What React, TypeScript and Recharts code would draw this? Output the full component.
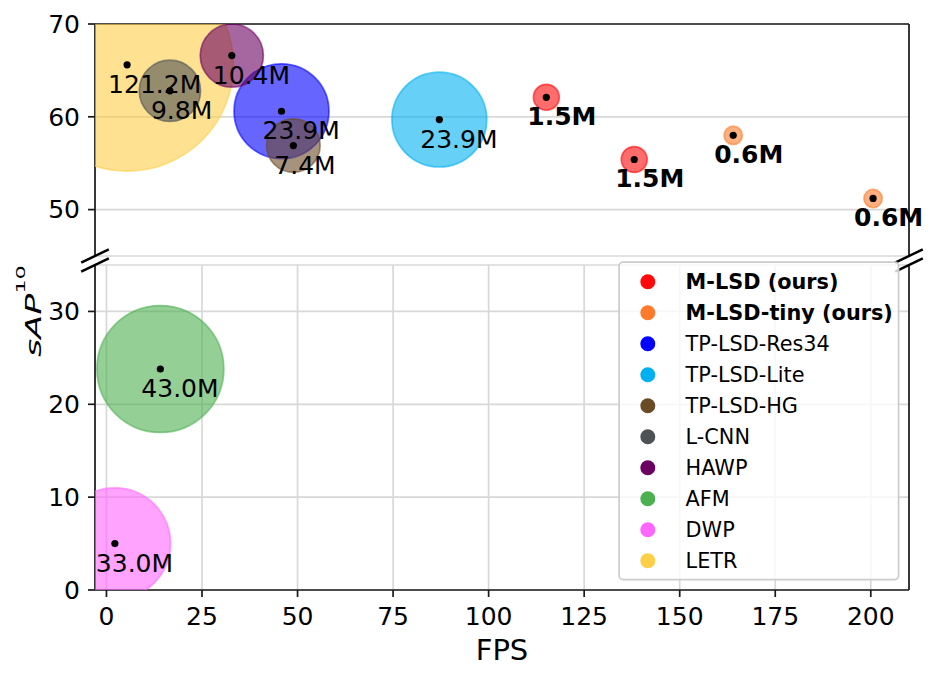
import React from 'react';
import {
  ScatterChart,
  Scatter,
  XAxis,
  YAxis,
  ZAxis,
  CartesianGrid,
  ReferenceLine,
  Label,
} from 'recharts';

// ---------------- data ----------------
const MODELS = [
  'M-LSD (ours)',
  'M-LSD-tiny (ours)',
  'TP-LSD-Res34',
  'TP-LSD-Lite',
  'TP-LSD-HG',
  'L-CNN',
  'HAWP',
  'AFM',
  'DWP',
  'LETR',
];
const OURS = ['M-LSD (ours)', 'M-LSD-tiny (ours)'];

// one entry per plotted point (drawing order: large bubbles underneath)
const POINT_MODEL = [
  'LETR',
  'AFM',
  'DWP',
  'TP-LSD-Lite',
  'TP-LSD-Res34',
  'HAWP',
  'L-CNN',
  'TP-LSD-HG',
  'M-LSD (ours)',
  'M-LSD (ours)',
  'M-LSD-tiny (ours)',
  'M-LSD-tiny (ours)',
];
const POINT_FPS = [5.4, 14.1, 2.2, 87.1, 45.8, 32.8, 16.6, 48.9, 115.1, 138.1, 164.0, 200.6];
const POINT_SAP10 = [65.6, 23.8, 5.0, 59.7, 60.6, 66.6, 62.8, 56.9, 62.1, 55.4, 58.0, 51.2];
const POINT_PARAMS = [121.2, 43.0, 33.0, 23.9, 23.9, 10.4, 9.8, 7.4, 1.5, 1.5, 0.6, 0.6];

const X_DOMAIN: [number, number] = [-3, 210];
const X_TICKS = [0, 25, 50, 75, 100, 125, 150, 175, 200];
const TOP_Y_DOMAIN: [number, number] = [45, 70];
const TOP_Y_TICKS = [50, 60, 70];
const BOTTOM_Y_DOMAIN: [number, number] = [0, 35];
const BOTTOM_Y_TICKS = [0, 10, 20, 30];

// ---------------- styles ----------------
const COLORS: Record<string, string> = {
  'M-LSD (ours)': '#ff0a0a',
  'M-LSD-tiny (ours)': '#ff7b2c',
  'TP-LSD-Res34': '#0000ff',
  'TP-LSD-Lite': '#00b0f0',
  'TP-LSD-HG': '#6b4a26',
  'L-CNN': '#4f5255',
  HAWP: '#6a005f',
  AFM: '#4caf50',
  DWP: '#ff66ff',
  LETR: '#fdcf47',
};

const W = 938;
const H = 680;
const PLOT_L = 95;
const PLOT_R = 909;
const TOP_T = 24;
const TOP_B = 256;
const BOT_T = 265;
const BOT_B = 590;
const FONT = '"DejaVu Sans", "Liberation Sans", sans-serif';
const INK = '#1a1a1a';
const GRID = '#d8d8d8';
const LW = 1.7;

// bubble area (px^2) per million parameters
const AREA_PER_M = 93 * Math.PI;
const AREA_OFFSET_M = 0.3;
const MAX_PARAMS = Math.max(...POINT_PARAMS);
const Z_DOMAIN: [number, number] = [0, MAX_PARAMS];
const Z_RANGE: [number, number] = [
  AREA_OFFSET_M * AREA_PER_M,
  (MAX_PARAMS + AREA_OFFSET_M) * AREA_PER_M,
];

type Pt = { model: string; fps: number; sap10: number; params: number; tag: string };

const POINTS: Pt[] = POINT_MODEL.map((m, i) => ({
  model: m,
  fps: POINT_FPS[i],
  sap10: POINT_SAP10[i],
  params: POINT_PARAMS[i],
  tag: `${POINT_PARAMS[i].toFixed(1)}M`,
}));
const TOP_POINTS = POINTS.filter((p) => p.sap10 >= TOP_Y_DOMAIN[0]);
const BOTTOM_POINTS = POINTS.filter((p) => p.sap10 < TOP_Y_DOMAIN[0]);

// ---------------- shapes ----------------
const Bubble = (props: any) => {
  const { cx, cy, payload } = props;
  const r =
    props.size != null ? Math.sqrt(Math.max(props.size, 0) / Math.PI) : (props.width || 0) / 2;
  const c = COLORS[payload.model];
  return (
    <circle
      cx={cx}
      cy={cy}
      r={r}
      fill={c}
      fillOpacity={0.6}
      stroke={c}
      strokeOpacity={0.6}
      strokeWidth={LW}
    />
  );
};

const Dot = (props: any) => <circle cx={props.cx} cy={props.cy} r={3.6} fill="#000" />;

const Tag = (props: any) => {
  const { cx, cy, payload } = props;
  return (
    <text
      x={cx - 19}
      y={cy + 28}
      fontSize={25}
      fontFamily={FONT}
      fontWeight={OURS.includes(payload.model) ? 'bold' : 'normal'}
      fill="#000"
    >
      {payload.tag}
    </text>
  );
};

const TICK = { fill: '#000', fontSize: 25, fontFamily: FONT };
const AXIS_LINE = { stroke: INK, strokeWidth: LW };

function Layers(data: Pt[]) {
  return [
    <Scatter key="b" data={data} shape={Bubble} isAnimationActive={false} />,
    <Scatter
      key="d"
      data={data}
      xAxisId="free"
      yAxisId="free"
      shape={Dot}
      isAnimationActive={false}
    />,
    <Scatter
      key="t"
      data={data}
      xAxisId="free"
      yAxisId="free"
      shape={Tag}
      isAnimationActive={false}
    />,
  ];
}

function BreakMarks() {
  const marks: React.ReactNode[] = [];
  [PLOT_L, PLOT_R].forEach((x) =>
    [TOP_B, BOT_T].forEach((y) =>
      marks.push(
        <line
          key={`${x}-${y}`}
          x1={x - 13.8}
          y1={y + 6.7}
          x2={x + 13.8}
          y2={y - 6.7}
          stroke="#000"
          strokeWidth={2.5}
        />
      )
    )
  );
  return <g>{marks}</g>;
}

function LegendBox() {
  const fs = 20.8;
  const pad = 10.4;
  const right = PLOT_R - pad;
  const bottom = BOT_B - pad;
  const w = 279.5;
  const h = 317.5;
  const left = right - w;
  const top = bottom - h;
  const step = 31;
  const first = top + 19.7;
  return (
    <g>
      <rect
        x={left}
        y={top}
        width={w}
        height={h}
        rx={4}
        ry={4}
        fill="#fff"
        fillOpacity={0.8}
        stroke="#cccccc"
        strokeWidth={1.7}
      />
      {MODELS.map((m, i) => {
        const cy = first + i * step;
        return (
          <g key={m}>
            <circle cx={left + 28.7} cy={cy} r={7.5} fill={COLORS[m]} />
            <text
              x={left + 66.5}
              y={cy + 0.3645 * fs}
              fontSize={fs}
              fontFamily={FONT}
              fontWeight={OURS.includes(m) ? 'bold' : 'normal'}
              fill="#000"
            >
              {m}
            </text>
          </g>
        );
      })}
    </g>
  );
}

export default function App() {
  return (
    <div style={{ position: 'relative', width: W, height: H, background: '#fff', fontFamily: FONT }}>
      <style>{'body{margin:0;background:#fff}'}</style>

      {/* upper panel */}
      <div style={{ position: 'absolute', left: 0, top: 0 }}>
        <ScatterChart
          width={W}
          height={TOP_B + 4}
          margin={{ top: TOP_T, right: W - PLOT_R, bottom: 4, left: 0 }}
        >
          <CartesianGrid stroke={GRID} strokeWidth={LW} />
          <XAxis
            type="number"
            dataKey="fps"
            domain={X_DOMAIN}
            ticks={X_TICKS}
            allowDataOverflow
            height={0}
            tick={false}
            tickLine={false}
            axisLine={false}
          />
          <XAxis xAxisId="free" type="number" dataKey="fps" domain={X_DOMAIN} ticks={X_TICKS} hide />
          <YAxis
            type="number"
            dataKey="sap10"
            domain={TOP_Y_DOMAIN}
            ticks={TOP_Y_TICKS}
            allowDataOverflow
            interval={0}
            width={PLOT_L}
            tickSize={7}
            tickMargin={8}
            tick={TICK}
            axisLine={AXIS_LINE}
            tickLine={AXIS_LINE}
          />
          <YAxis
            yAxisId="free"
            type="number"
            dataKey="sap10"
            domain={TOP_Y_DOMAIN}
            ticks={TOP_Y_TICKS}
            hide
          />
          <ZAxis type="number" dataKey="params" domain={Z_DOMAIN} range={Z_RANGE} />
          {Layers(TOP_POINTS)}
          <ReferenceLine y={TOP_Y_DOMAIN[1]} stroke={INK} strokeWidth={LW} />
          <ReferenceLine x={X_DOMAIN[1]} stroke={INK} strokeWidth={LW} />
        </ScatterChart>
      </div>

      {/* lower panel */}
      <div style={{ position: 'absolute', left: 0, top: 0 }}>
        <ScatterChart
          width={W}
          height={H}
          margin={{ top: BOT_T, right: W - PLOT_R, bottom: 0, left: 0 }}
        >
          <CartesianGrid stroke={GRID} strokeWidth={LW} />
          <XAxis
            type="number"
            dataKey="fps"
            domain={X_DOMAIN}
            ticks={X_TICKS}
            allowDataOverflow
            interval={0}
            height={H - BOT_B}
            tickSize={7}
            tickMargin={10}
            tick={TICK}
            axisLine={AXIS_LINE}
            tickLine={AXIS_LINE}
          >
            <Label
              value="FPS"
              position="insideBottom"
              offset={20}
              fontSize={29}
              fontFamily={FONT}
              fill="#000"
            />
          </XAxis>
          <XAxis xAxisId="free" type="number" dataKey="fps" domain={X_DOMAIN} ticks={X_TICKS} hide />
          <YAxis
            type="number"
            dataKey="sap10"
            domain={BOTTOM_Y_DOMAIN}
            ticks={BOTTOM_Y_TICKS}
            allowDataOverflow
            interval={0}
            width={PLOT_L}
            tickSize={7}
            tickMargin={8}
            tick={TICK}
            axisLine={AXIS_LINE}
            tickLine={AXIS_LINE}
          />
          <YAxis
            yAxisId="free"
            type="number"
            dataKey="sap10"
            domain={BOTTOM_Y_DOMAIN}
            ticks={BOTTOM_Y_TICKS}
            hide
          />
          <ZAxis type="number" dataKey="params" domain={Z_DOMAIN} range={Z_RANGE} />
          {Layers(BOTTOM_POINTS)}
          <ReferenceLine x={X_DOMAIN[1]} stroke={INK} strokeWidth={LW} />
        </ScatterChart>
      </div>

      {/* figure-level decorations: shared y label, axis-break marks, legend */}
      <svg
        width={W}
        height={H}
        style={{ position: 'absolute', left: 0, top: 0, pointerEvents: 'none' }}
      >
        <text
          transform="translate(41,357) rotate(-90) scale(1.17,0.68)"
          fontSize={30}
          fontFamily={FONT}
          fontStyle="italic"
          fill="#000"
        >
          sAP
          <tspan fontSize={19} fontStyle="normal" dy={-23.5}>
            10
          </tspan>
        </text>
        <BreakMarks />
        <LegendBox />
      </svg>
    </div>
  );
}
